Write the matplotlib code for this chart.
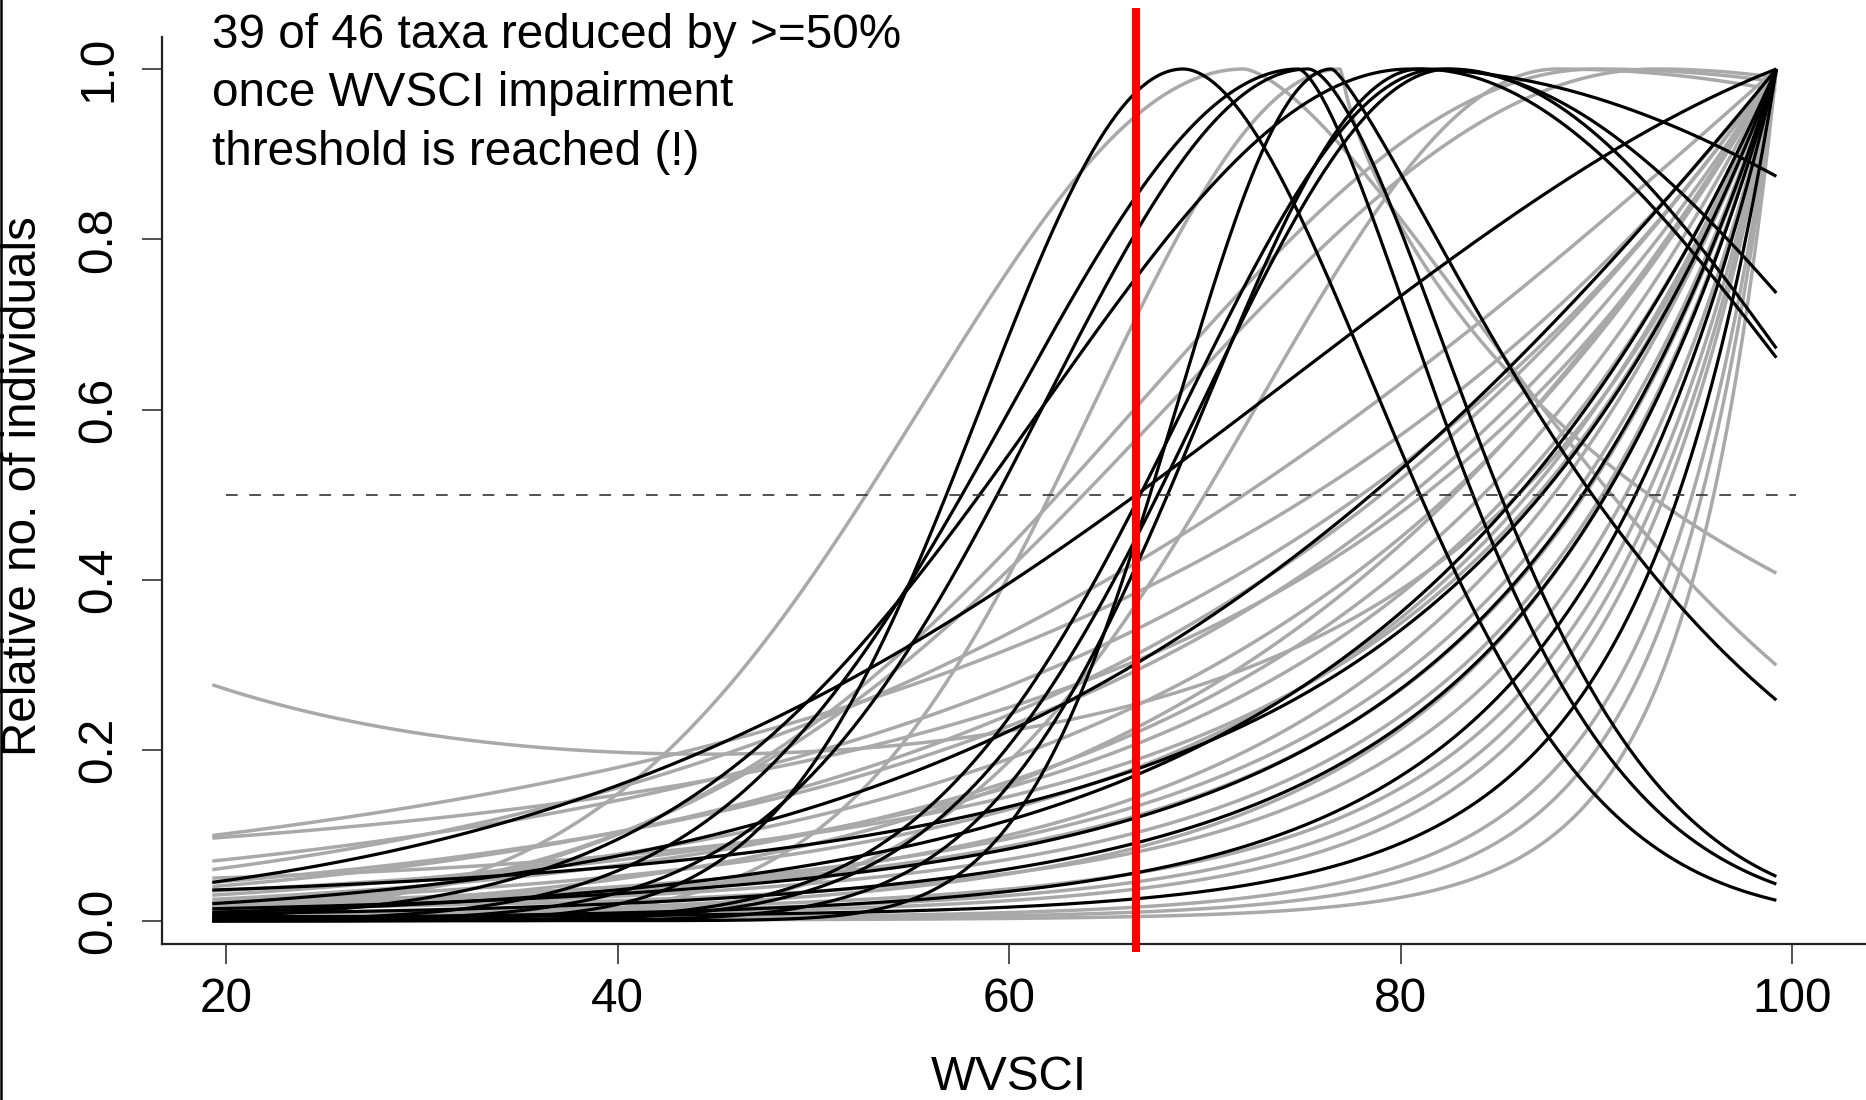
import numpy as np
import matplotlib
matplotlib.use("Agg")
import matplotlib.pyplot as plt
from matplotlib.lines import Line2D

plt.rcParams['font.family'] = ['Liberation Sans', 'DejaVu Sans']

# WVSCI range covered by the fitted response curves
W_LO, W_HI = 19.3, 99.2
IMPAIRMENT = 66.5

# Taxa whose abundance keeps rising up to the top of the index:
# relative value at W_LO and the WVSCI score where 50 % is reached
rise_colour = ['gray', 'gray', 'gray', 'gray', 'gray', 'gray', 'gray', 'gray',
               'gray', 'gray', 'gray', 'gray', 'gray', 'gray', 'gray', 'gray',
               'gray', 'gray', 'gray', 'gray', 'gray', 'gray', 'gray', 'gray',
               'gray',
               'black', 'black', 'black', 'black', 'black', 'black', 'black',
               'black']
rise_start = [0.277, 0.100, 0.097, 0.030, 0.025, 0.012, 0.020, 0.018,
              0.015, 0.010, 0.008, 0.006, 0.004, 0.003, 0.005, 0.040,
              0.060, 0.002, 0.035, 0.050, 0.022, 0.015, 0.045, 0.070,
              0.012,
              0.045, 0.036, 0.020, 0.014, 0.008, 0.005, 0.010, 0.003]
rise_half = [86.0, 75.5, 81.2, 82.5, 84.2, 82.7, 88.9, 89.4,
             90.3, 92.6, 93.1, 93.5, 94.9, 95.4, 90.5, 79.0,
             72.0, 96.0, 85.5, 87.0, 86.5, 91.5, 80.5, 78.0,
             87.8,
             66.5, 87.2, 78.5, 89.3, 90.5, 94.2, 86.0, 92.0]

# Taxa with an optimum inside the range: optimum, 50 % point on the
# rising limb, 50 % point on the falling limb (nan if never reached)
# and relative value at W_HI
hump_colour = ['gray', 'gray', 'gray', 'gray', 'gray',
               'black', 'black', 'black', 'black', 'black', 'black',
               'black', 'black']
hump_peak = [72.0, 77.0, 90.0, 93.0, 88.0,
             68.9, 74.8, 75.3, 76.5, 80.5, 82.0, 82.5, 81.0]
hump_half_left = [52.7, 62.1, 62.5, 63.8, 70.0,
                  56.8, 57.6, 59.4, 67.2, 58.5, 66.7, 67.6, 68.1]
hump_half_right = [90.8, 92.7, np.nan, np.nan, np.nan,
                   81.0, 83.7, 85.1, 89.8, np.nan, np.nan, np.nan, np.nan]
hump_end = [0.300, 0.408, 0.985, 0.990, 0.975,
            0.024, 0.043, 0.052, 0.259, 0.874, 0.737, 0.672, 0.661]

LN2 = np.log(2.0)
x = np.linspace(W_LO, W_HI, 600)


def rising_curve(start, half):
    # Gaussian (log-quadratic) response through (W_LO, start),
    # (half, 0.5) and (W_HI, 1)
    d1, d2 = half - W_HI, W_LO - W_HI
    A = np.array([[d1, d1 ** 2], [d2, d2 ** 2]])
    a, b = np.linalg.solve(A, [np.log(0.5), np.log(start)])
    d = x - W_HI
    y = np.exp(a * d + b * d ** 2)
    return y / y.max()


def hump_curve(peak, half_left, half_right, end):
    y = np.empty_like(x)
    left = x < peak
    y[left] = np.exp(-LN2 * ((peak - x[left]) / (peak - half_left)) ** 2)
    xr = x[~left] - peak
    if np.isnan(half_right):
        y[~left] = np.exp(np.log(end) * (xr / (W_HI - peak)) ** 2)
    else:
        p = np.log(np.log(1.0 / end) / LN2) / np.log((W_HI - peak) / (half_right - peak))
        y[~left] = np.exp(-LN2 * (xr / (half_right - peak)) ** p)
    return y / y.max()


COLOURS = {'gray': '#a9a9a9', 'black': '#000000'}
FS = 34.3

fig = plt.figure(figsize=(18.66, 11.0), dpi=100)
ax = fig.add_axes([162 / 1866, 1 - 944 / 1100, 1.06 - 162 / 1866, (944 - 37) / 1100])

curves = []
for c, s, h in zip(rise_colour, rise_start, rise_half):
    curves.append((c, rising_curve(s, h)))
for c, pk, hl, hr, e in zip(hump_colour, hump_peak, hump_half_left,
                            hump_half_right, hump_end):
    curves.append((c, hump_curve(pk, hl, hr, e)))

for c, y in curves:
    if c == 'gray':
        ax.plot(x, y, color=COLOURS[c], lw=2.5, solid_capstyle='butt', zorder=2)
for c, y in curves:
    if c == 'black':
        ax.plot(x, y, color=COLOURS[c], lw=2.3, solid_capstyle='butt', zorder=3)

ax.plot([20, 100.2], [0.5, 0.5], color='#333333', lw=1.2, dashes=(7, 7), zorder=4)
ax.plot([IMPAIRMENT, IMPAIRMENT], [-0.0368, 1.0716], color='#ff0000', lw=5.8,
        solid_capstyle='butt', clip_on=False, zorder=5)

x_right = 20 + (1.06 * 1866 - 226) / 19.575
ax.set_xlim(20 - 64 / 19.575, x_right)
ax.set_ylim(-23.3 / 851.7, 1 + 32 / 851.7)

for side in ('top', 'right'):
    ax.spines[side].set_visible(False)
for side in ('left', 'bottom'):
    ax.spines[side].set_linewidth(1.6)
    ax.spines[side].set_color('#222222')

ax.set_xticks([20, 40, 60, 80, 100])
ax.set_yticks([0.0, 0.2, 0.4, 0.6, 0.8, 1.0])
ax.set_yticklabels(['0.0', '0.2', '0.4', '0.6', '0.8', '1.0'], rotation=90, va='center')
ax.tick_params(axis='both', length=14.5, width=1.1, color='#222222', labelsize=FS)
ax.tick_params(axis='x', pad=9.3)
ax.tick_params(axis='y', pad=15)

fig.text(1009 / 1866, 1 - 1090 / 1100, 'WVSCI', fontsize=FS, ha='center', va='baseline')
fig.text(24 / 1866, 1 - 486 / 1100, 'Relative no. of individuals', fontsize=FS,
         rotation=90, ha='center', va='center')

note_lines = ['39 of 46 taxa reduced by >=50%', 'once WVSCI impairment',
              'threshold is reached (!)']
for line, base in zip(note_lines, [47.6, 106.5, 165.0]):
    fig.text(212 / 1866, 1 - base / 1100, line, fontsize=FS, ha='left', va='baseline')

fig.add_artist(Line2D([1.2 / 1866, 1.2 / 1866], [0, 1], color='black', lw=1.8,
                      transform=fig.transFigure))

fig.savefig('out.png', dpi=100)
